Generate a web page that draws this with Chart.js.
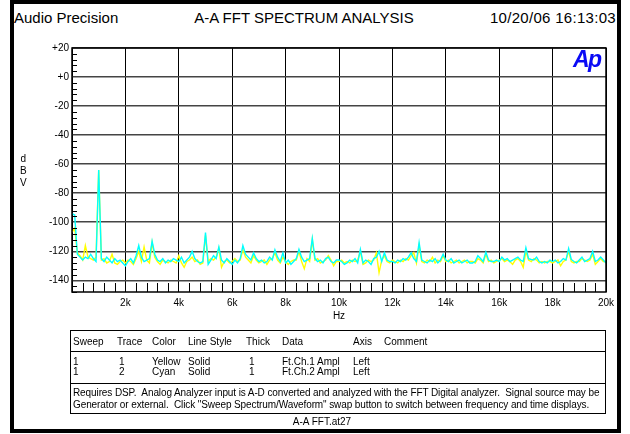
<!DOCTYPE html>
<html>
<head>
<meta charset="utf-8">
<script src="https://cdn.jsdelivr.net/npm/chart.js"></script>
<style>
  body { margin: 0; background: #fff; font-family: "Liberation Sans", Arial, sans-serif; }
  #page { position: relative; width: 630px; height: 434px; overflow: hidden; }
  #frame { position: absolute; left: 10px; top: 0px; width: 603px; height: 425px; border: 4px solid #000; }
  .t { position: absolute; white-space: nowrap; color: #000; }
  .hd { font-size: 15px; top: 9px; }
  .sm { font-size: 10px; }
  #tbl { position: absolute; left: 70px; top: 330px; width: 534px; height: 82px; border: 1px solid #000; }
  .hr { position: absolute; left: 0; right: 0; height: 0; border-top: 1px solid #000; }
  #logo { position: absolute; left: 573px; top: 46px; font: italic bold 23px "Liberation Sans", Arial, sans-serif; color: #0a0af5; letter-spacing: -1.5px; }
  canvas { position: absolute; left: 0; top: 0; }
</style>
</head>
<body>
<div id="page">
  <div id="frame"></div>
  <div class="t hd" style="left:14px">Audio Precision</div>
  <div class="t hd" style="left:304px;transform:translateX(-50%)">A-A FFT SPECTRUM ANALYSIS</div>
  <div class="t hd" style="right:14px;letter-spacing:0.3px">10/20/06 16:13:03</div>

  <canvas id="fft" width="630" height="434"></canvas>
  <div id="logo">Ap</div>

  <div class="t sm" style="left:20px;top:153px;line-height:12px;text-align:center">d<br>B<br>V</div>

  <div id="tbl">
    <div class="t sm" style="left:2px;top:5px">Sweep</div>
    <div class="t sm" style="left:46px;top:5px">Trace</div>
    <div class="t sm" style="left:81px;top:5px">Color</div>
    <div class="t sm" style="left:117px;top:5px">Line Style</div>
    <div class="t sm" style="left:175px;top:5px">Thick</div>
    <div class="t sm" style="left:211px;top:5px">Data</div>
    <div class="t sm" style="left:282px;top:5px">Axis</div>
    <div class="t sm" style="left:313px;top:5px">Comment</div>
    <div class="hr" style="top:20px"></div>

    <div class="t sm" style="left:2px;top:26px;line-height:10px">1<br>1</div>
    <div class="t sm" style="left:48px;top:26px;line-height:10px">1<br>2</div>
    <div class="t sm" style="left:81px;top:26px;line-height:10px">Yellow<br>Cyan</div>
    <div class="t sm" style="left:117px;top:26px;line-height:10px">Solid<br>Solid</div>
    <div class="t sm" style="left:178px;top:26px;line-height:10px">1<br>1</div>
    <div class="t sm" style="left:211px;top:26px;line-height:10px">Ft.Ch.1 Ampl<br>Ft.Ch.2 Ampl</div>
    <div class="t sm" style="left:282px;top:26px;line-height:10px">Left<br>Left</div>
    <div class="hr" style="top:52px"></div>

    <div class="t sm" style="left:2px;top:56px;line-height:12px;letter-spacing:-0.1px">Requires DSP.&nbsp; Analog Analyzer input is A-D converted and analyzed with the FFT Digital analyzer.&nbsp; Signal source may be<br>Generator or external.&nbsp; Click "Sweep Spectrum/Waveform" swap button to switch between frequency and time displays.</div>
  </div>
  <div class="t sm" style="left:322px;top:416px;transform:translateX(-50%)">A-A FFT.at27</div>
</div>

<script>
// FFT bins, 100 Hz apart, 0 .. 20 kHz
var binHz = 100;

// Trace 1 (yellow) dBV
var ch1Ampl = [
  -107, -104, -121, -123, -126, -116, -124, -125, -126, -124,
  -64, -126, -125, -128, -127, -122, -128, -129, -127, -126,
  -128, -126, -127, -129, -125, -120, -127, -117, -126, -128,
  -114, -124, -127, -129, -126, -127, -128, -126, -127, -128,
  -123, -128, -131, -127, -126, -124, -127, -126, -129, -128,
  -109, -127, -125, -126, -124, -118, -131, -127, -126, -128,
  -127, -125, -127, -126, -119, -124, -126, -128, -123, -126,
  -128, -127, -126, -129, -126, -125, -121, -126, -128, -124,
  -127, -129, -127, -126, -126, -120, -127, -132, -125, -127,
  -112, -126, -125, -128, -127, -126, -123, -126, -130, -127,
  -127, -126, -128, -127, -128, -126, -127, -126, -120, -129,
  -128, -126, -127, -126, -121, -134.7, -126, -123, -127, -128,
  -126, -127, -128, -126, -127, -125, -126, -123, -121, -128,
  -116, -127, -128, -126, -127, -124, -128, -126, -127, -123,
  -127, -126, -128, -127, -126, -128, -127, -126, -128, -127,
  -127, -128, -125, -126, -128, -122, -127, -126, -128, -127,
  -126, -125, -127, -126, -127, -129, -126, -125, -127, -131,
  -120, -126, -127, -125, -126, -128, -127, -128, -127, -127,
  -128, -127, -126, -130, -127, -126, -120, -127, -128, -127,
  -127, -125, -126, -127, -126, -122, -129, -127, -125, -127,
  -127
];

// Trace 2 (cyan) dBV
var ch2Ampl = [
  -94, -95, -122, -124, -126, -124, -125, -122, -125, -127,
  -64, -125, -127, -124, -126, -128, -125, -127, -126, -128,
  -130, -127, -125, -128, -123, -116, -124, -127, -126, -125,
  -113, -122, -126, -127, -125, -128, -126, -127, -125, -126,
  -127, -124, -128, -126, -124, -120, -125, -127, -128, -127,
  -107, -129, -126, -123, -125, -117, -126, -128, -125, -127,
  -129, -126, -128, -125, -116, -122, -124, -126, -121, -125,
  -127, -126, -128, -127, -124, -126, -119, -124, -127, -121,
  -128, -126, -129, -127, -125, -118.6, -124, -127, -126, -125,
  -111, -125, -127, -126, -128, -125, -124, -127, -128, -126,
  -126, -127, -129, -128, -126, -127, -125, -128, -118.6, -128,
  -126, -127, -129, -125, -124, -120, -127, -121, -126, -127,
  -127, -128, -126, -127, -125, -126, -124, -121, -125, -127,
  -114, -126, -127, -128, -126, -127, -125, -128, -126, -122,
  -126, -127, -125, -128, -127, -126, -128, -127, -126, -128,
  -128, -127, -123, -125, -127, -120.5, -126, -127, -127, -126,
  -127, -124, -126, -125, -127, -126, -125, -124, -126, -127,
  -117.6, -125, -125.6, -126, -124, -127, -128, -127, -128, -126,
  -127, -126, -128, -127, -125, -126, -118, -125.6, -127, -128,
  -126, -124, -127, -126, -125, -120, -127, -126, -124, -126,
  -128
];

var xMin = 0, xMax = 20000, xMajor = 2000, xMinor = 400;
var yMin = -148, yMax = 20, yMajor = 20, yMinor = 4;

function toPoints(arr) {
  return arr.map(function (v, i) { return { x: i * binHz, y: v }; });
}

// short inward tick marks + plot border
var minorTicks = {
  id: 'minorTicks',
  afterDraw: function (chart) {
    var ctx = chart.ctx, a = chart.chartArea;
    var xs = chart.scales.x, ys = chart.scales.y;
    ctx.save();
    ctx.strokeStyle = '#000';
    ctx.lineWidth = 1;
    ctx.beginPath();
    xs.ticks.forEach(function (t) {
      if (t.value % xMajor !== 0) {
        var px = Math.round(xs.getPixelForValue(t.value)) + 0.5;
        ctx.moveTo(px, a.bottom);
        ctx.lineTo(px, a.bottom - 9);
      }
    });
    ys.ticks.forEach(function (t) {
      if ((t.value - yMax) % yMajor !== 0) {
        var py = Math.round(ys.getPixelForValue(t.value)) + 0.5;
        ctx.moveTo(a.left, py);
        ctx.lineTo(a.left + 5, py);
      }
    });
    ctx.stroke();
    ctx.lineWidth = 1.5;
    ctx.strokeRect(a.left, a.top, a.right - a.left, a.bottom - a.top);
    ctx.restore();
  }
};

new Chart(document.getElementById('fft'), {
  type: 'line',
  data: {
    datasets: [
      {
        label: 'Ft.Ch.1 Ampl',
        data: toPoints(ch1Ampl),
        borderColor: '#ffff00',
        borderWidth: 1.4,
        pointRadius: 0,
        fill: false,
        order: 2
      },
      {
        label: 'Ft.Ch.2 Ampl',
        data: toPoints(ch2Ampl),
        borderColor: '#00ffff',
        borderWidth: 1.4,
        pointRadius: 0,
        fill: false,
        order: 1
      }
    ]
  },
  options: {
    responsive: false,
    animation: false,
    events: [],
    layout: { padding: { left: 28, top: 48, right: 24, bottom: 112 } },
    plugins: { legend: { display: false }, tooltip: { enabled: false } },
    scales: {
      x: {
        type: 'linear',
        min: xMin,
        max: xMax,
        afterFit: function (s) { s.height = 30; },
        ticks: {
          stepSize: xMinor,
          autoSkip: false,
          maxRotation: 0,
          padding: 5,
          color: '#000',
          font: { family: 'Liberation Sans', size: 10 },
          callback: function (v) {
            return (v % xMajor === 0 && v > 0) ? (v / 1000) + 'k' : '';
          }
        },
        grid: {
          drawTicks: false,
          lineWidth: 1,
          color: function (c) {
            return (c.tick && c.tick.value % xMajor === 0) ? '#000' : 'rgba(0,0,0,0)';
          }
        },
        border: { display: false },
        title: {
          display: true,
          text: 'Hz',
          color: '#000',
          font: { family: 'Liberation Sans', size: 10 },
          padding: { top: 1, bottom: 0 }
        }
      },
      y: {
        min: yMin,
        max: yMax,
        afterFit: function (s) { s.width = 44; },
        ticks: {
          stepSize: yMinor,
          autoSkip: false,
          padding: 3,
          color: '#000',
          font: { family: 'Liberation Sans', size: 10 },
          callback: function (v) {
            if ((v - yMax) % yMajor !== 0) return '';
            return v >= 0 ? '+' + v : '' + v;
          }
        },
        grid: {
          drawTicks: false,
          lineWidth: 1.6,
          color: function (c) {
            return (c.tick && (c.tick.value - yMax) % yMajor === 0) ? '#444' : 'rgba(0,0,0,0)';
          }
        },
        border: { display: false }
      }
    }
  },
  plugins: [minorTicks]
});
</script>
</body>
</html>
